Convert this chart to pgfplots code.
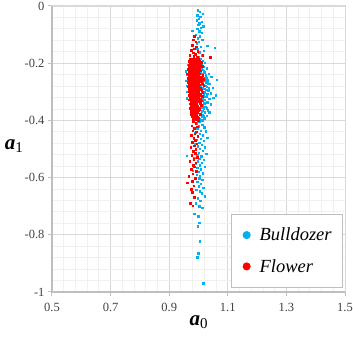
\documentclass[border=0pt]{standalone}
\usepackage{fontspec}
\setmainfont{Liberation Serif}
\usepackage{pgfplots}
\pgfplotsset{compat=1.18}
\definecolor{bblue}{HTML}{00B0F0}
\definecolor{rred}{HTML}{FF0000}
\definecolor{majg}{HTML}{D9D9D9}
\definecolor{ming}{HTML}{F0F0F0}
\definecolor{axg}{HTML}{BFBFBF}
\definecolor{tickt}{HTML}{404040}
\begin{document}
\begin{tikzpicture}
\begin{axis}[
 scale only axis, width=293pt, height=286pt,
 xmin=0.5, xmax=1.5, ymin=-1, ymax=0,
 xtick={0.5,0.7,0.9,1.1,1.3,1.5}, xticklabels={0.5,0.7,0.9,1.1,1.3,1.5},
 ytick={-1,-0.8,-0.6,-0.4,-0.2,0}, yticklabels={-1,-0.8,-0.6,-0.4,-0.2,0},
 minor tick num=4, minor tick length=0pt,
 grid=both, major grid style={majg, line width=0.9pt}, minor grid style={ming, line width=0.9pt},
 axis line style={majg, line width=1pt},
 tick align=outside, major tick length=4pt, tick pos=left,
 major tick style={axg, line width=1pt},
 ticklabel style={font=\fontsize{12.5}{14}\selectfont, text=tickt},
 xticklabel style={yshift=-4pt},
 xlabel={\fontsize{21}{24}\selectfont\textbf{\textit{a}}\raisebox{-0.35ex}{\fontsize{15}{18}\selectfont 0}},
 ylabel={\fontsize{21}{24}\selectfont\textbf{\textit{a}}\raisebox{-0.35ex}{\fontsize{15}{18}\selectfont 1}},
 xlabel style={at={(axis description cs:0.5,-0.105)}, anchor=center},
 ylabel style={rotate=-90, at={(axis description cs:-0.13,0.51)}, anchor=center},
 legend style={at={(1,0)}, anchor=south east, xshift=-2pt, yshift=4pt, draw=axg, line width=0.8pt, fill=white,
   font=\fontsize{18.5}{21}\selectfont\itshape, row sep=13pt, inner xsep=4pt, inner ysep=12pt, cells={anchor=west}},
 legend cell align=left,
 after end axis/.code={\draw[axg, line width=1.5pt] (rel axis cs:0,1) -- (rel axis cs:0,0) -- (rel axis cs:1,0);},
]
\addlegendimage{legend image code/.code={\path[draw=none,fill=none] (0pt,0pt) -- (22pt,0pt); \fill[bblue] (11pt,0pt) circle (3.6pt);}}
\addlegendentry{Bulldozer\kern5pt}
\addlegendimage{legend image code/.code={\path[draw=none,fill=none] (0pt,0pt) -- (22pt,0pt); \fill[rred] (11pt,0pt) circle (3.6pt);}}
\addlegendentry{Flower}
% Bulldozer
\addplot[forget plot, only marks, mark=square*, mark size=0.7pt, bblue] coordinates {
(0.998,-0.015) (1.004,-0.020) (1.015,-0.026) (0.996,-0.032) (1.006,-0.038) (1.001,-0.045) (0.994,-0.050) (1.010,-0.055) (1.003,-0.060) (0.999,-0.066) (1.016,-0.070) (1.007,-0.075) (0.995,-0.080) (0.978,-0.086) (1.002,-0.088) (1.011,-0.094) (0.990,-0.100) (1.005,-0.106) (0.997,-0.112) (1.013,-0.118) (1.001,-0.124) (0.993,-0.130) (1.030,-0.138) (1.056,-0.146) (1.008,-0.142) (0.996,-0.150) (1.018,-0.156) (1.003,-0.162) (0.989,-0.166) (1.012,-0.172) (1.000,-0.178)
(1.008,-0.185) (1.015,-0.192) (1.022,-0.198) (1.010,-0.205) (1.018,-0.212) (1.028,-0.218) (1.012,-0.222) (1.006,-0.228) (1.020,-0.232) (1.035,-0.236) (1.014,-0.240) (1.025,-0.246) (1.043,-0.248) (1.009,-0.252) (1.019,-0.256) (1.030,-0.260) (0.958,-0.262) (1.012,-0.265) (1.024,-0.268) (1.038,-0.272) (1.016,-0.276) (1.007,-0.280) (1.028,-0.283) (1.048,-0.285) (1.020,-0.290) (1.011,-0.294) (1.033,-0.297) (1.022,-0.302) (1.041,-0.305) (1.008,-0.308) (1.017,-0.312) (1.027,-0.316) (1.013,-0.320) (1.036,-0.324) (1.022,-0.328) (1.009,-0.332) (1.030,-0.336) (1.058,-0.312) (1.019,-0.340) (1.042,-0.344) (1.012,-0.348) (1.025,-0.352) (1.006,-0.356) (1.018,-0.360) (1.032,-0.364) (1.011,-0.368) (1.022,-0.372) (1.005,-0.376) (1.015,-0.380) (1.028,-0.384) (1.010,-0.388) (1.020,-0.392) (1.004,-0.396) (1.013,-0.400)
(1.010,-0.215) (1.017,-0.226) (1.013,-0.236) (1.024,-0.242) (1.016,-0.250) (1.027,-0.253) (1.010,-0.260) (1.021,-0.262) (1.031,-0.270) (1.014,-0.272) (1.023,-0.279) (1.035,-0.288) (1.015,-0.286) (1.026,-0.293) (1.012,-0.300) (1.030,-0.306) (1.020,-0.318) (1.014,-0.330) (1.024,-0.338) (1.008,-0.344) (1.016,-0.354) (1.027,-0.358) (1.013,-0.366) (1.036,-0.372) (1.018,-0.386) (1.062,-0.258) (1.050,-0.320) (0.962,-0.240) (0.960,-0.300) (0.957,-0.228) (0.961,-0.278) (0.959,-0.322) (0.963,-0.205)
(1.002,-0.405) (0.992,-0.410) (1.012,-0.415) (1.000,-0.420) (1.020,-0.424) (0.996,-0.430) (1.008,-0.435) (1.025,-0.438) (0.989,-0.442) (1.004,-0.447) (1.014,-0.452) (0.998,-0.457) (1.030,-0.460) (1.007,-0.464) (0.993,-0.468) (1.018,-0.472) (1.002,-0.477) (0.987,-0.482) (1.011,-0.486) (0.997,-0.490) (1.022,-0.494) (1.005,-0.498) (0.991,-0.503) (1.015,-0.507) (1.000,-0.512) (1.026,-0.516) (0.995,-0.520) (1.009,-0.525) (0.960,-0.523) (0.985,-0.530) (1.003,-0.534) (1.018,-0.538) (0.998,-0.543) (1.010,-0.548) (0.990,-0.552) (1.004,-0.557) (1.021,-0.562) (0.996,-0.566) (1.008,-0.570) (0.980,-0.575) (1.000,-0.580) (1.014,-0.585) (0.993,-0.590) (1.005,-0.595)
(1.003,-0.602) (1.012,-0.608) (0.995,-0.615) (1.008,-0.622) (1.000,-0.630) (1.016,-0.636) (0.992,-0.642) (1.004,-0.648) (1.010,-0.655) (1.022,-0.665) (0.998,-0.672) (1.006,-0.680) (0.990,-0.690) (1.002,-0.700) (1.012,-0.705) (0.985,-0.727) (0.999,-0.735) (1.003,-0.758) (0.998,-0.770) (1.004,-0.822) (0.999,-0.865) (0.996,-0.878) (1.016,-0.969)
};
% Flower
\addplot[forget plot, only marks, mark=square*, mark size=0.8pt, rred] coordinates {
(0.985,-0.105) (0.982,-0.118) (0.990,-0.125) (0.978,-0.138) (0.993,-0.142) (0.986,-0.150) (0.975,-0.155) (0.997,-0.158) (0.981,-0.163) (0.989,-0.168) (1.040,-0.178) (1.015,-0.172) (0.970,-0.172) (0.984,-0.176) (0.995,-0.180)
(0.972,-0.185) (0.979,-0.185) (0.985,-0.185) (0.990,-0.185) (0.996,-0.185) (1.001,-0.185)
(0.968,-0.192) (0.976,-0.192) (0.983,-0.192) (0.988,-0.192) (0.994,-0.192) (0.999,-0.192) (1.004,-0.192)
(0.970,-0.200) (0.975,-0.200) (0.981,-0.200) (0.987,-0.200) (0.992,-0.200) (0.997,-0.200) (1.002,-0.200)
(0.966,-0.207) (0.973,-0.207) (0.979,-0.207) (0.985,-0.207) (0.990,-0.207) (0.995,-0.207) (1.000,-0.207) (1.006,-0.207)
(0.969,-0.215) (0.977,-0.215) (0.982,-0.215) (0.988,-0.215) (0.993,-0.215) (0.998,-0.215) (1.003,-0.215)
(0.964,-0.222) (0.971,-0.222) (0.978,-0.222) (0.984,-0.222) (0.989,-0.222) (0.994,-0.222) (0.999,-0.222) (1.004,-0.222)
(0.967,-0.230) (0.974,-0.230) (0.980,-0.230) (0.986,-0.230) (0.991,-0.230) (0.996,-0.230) (1.001,-0.230)
(0.962,-0.237) (0.970,-0.237) (0.976,-0.237) (0.983,-0.237) (0.988,-0.237) (0.993,-0.237) (0.998,-0.237) (1.003,-0.237)
(0.966,-0.245) (0.973,-0.245) (0.979,-0.245) (0.985,-0.245) (0.990,-0.245) (0.995,-0.245) (1.000,-0.245)
(0.963,-0.252) (0.969,-0.252) (0.976,-0.252) (0.982,-0.252) (0.987,-0.252) (0.992,-0.252) (0.997,-0.252) (1.002,-0.252)
(0.967,-0.260) (0.974,-0.260) (0.980,-0.260) (0.986,-0.260) (0.991,-0.260) (0.996,-0.260) (1.001,-0.260) (1.007,-0.260)
(0.965,-0.267) (0.971,-0.267) (0.977,-0.267) (0.983,-0.267) (0.988,-0.267) (0.993,-0.267) (0.998,-0.267)
(0.968,-0.275) (0.975,-0.275) (0.981,-0.275) (0.987,-0.275) (0.992,-0.275) (0.997,-0.275) (1.003,-0.275)
(0.964,-0.282) (0.972,-0.282) (0.978,-0.282) (0.984,-0.282) (0.989,-0.282) (0.994,-0.282) (0.999,-0.282)
(0.969,-0.290) (0.976,-0.290) (0.982,-0.290) (0.988,-0.290) (0.993,-0.290) (0.998,-0.290) (1.004,-0.290)
(0.966,-0.297) (0.973,-0.297) (0.979,-0.297) (0.985,-0.297) (0.990,-0.297) (0.995,-0.297) (1.000,-0.297)
(0.970,-0.305) (0.977,-0.305) (0.983,-0.305) (0.989,-0.305) (0.994,-0.305) (0.999,-0.305)
(0.968,-0.312) (0.974,-0.312) (0.980,-0.312) (0.986,-0.312) (0.991,-0.312) (0.996,-0.312) (1.002,-0.312)
(0.971,-0.320) (0.978,-0.320) (0.984,-0.320) (0.990,-0.320) (0.995,-0.320) (1.000,-0.320)
(0.969,-0.327) (0.975,-0.327) (0.981,-0.327) (0.987,-0.327) (0.992,-0.327) (0.998,-0.327)
(0.973,-0.335) (0.979,-0.335) (0.985,-0.335) (0.991,-0.335) (0.996,-0.335) (1.001,-0.335)
(0.970,-0.342) (0.977,-0.342) (0.983,-0.342) (0.988,-0.342) (0.994,-0.342)
(0.974,-0.350) (0.980,-0.350) (0.986,-0.350) (0.992,-0.350) (0.997,-0.350)
(0.972,-0.357) (0.978,-0.357) (0.984,-0.357) (0.990,-0.357) (0.995,-0.357) (1.000,-0.357)
(0.975,-0.365) (0.981,-0.365) (0.987,-0.365) (0.993,-0.365) (0.998,-0.365)
(0.973,-0.372) (0.979,-0.372) (0.985,-0.372) (0.991,-0.372) (0.996,-0.372)
(0.976,-0.380) (0.982,-0.380) (0.988,-0.380) (0.994,-0.380)
(0.978,-0.387) (0.984,-0.387) (0.990,-0.387) (0.996,-0.387)
(0.980,-0.395) (0.986,-0.395) (0.992,-0.395)
(1.009,-0.196) (1.012,-0.211) (1.008,-0.226) (1.014,-0.241) (1.010,-0.249) (1.016,-0.256) (1.009,-0.264) (1.013,-0.271) (1.018,-0.279) (1.008,-0.286) (1.011,-0.294) (1.015,-0.301) (1.007,-0.309) (1.012,-0.316) (1.006,-0.324) (1.010,-0.331) (1.005,-0.339) (1.009,-0.347) (1.004,-0.361) (1.006,-0.378) (1.001,-0.392) (0.999,-0.401)
(0.982,-0.405) (0.990,-0.410) (0.977,-0.418) (0.995,-0.422) (0.985,-0.428) (0.980,-0.436) (0.992,-0.440) (0.987,-0.447) (0.976,-0.452) (0.997,-0.456) (0.983,-0.462) (0.989,-0.470) (0.979,-0.476) (0.994,-0.482) (0.985,-0.488) (0.973,-0.494) (0.991,-0.500) (0.982,-0.508) (0.988,-0.515) (0.977,-0.522) (0.995,-0.528) (0.984,-0.535) (0.970,-0.542) (0.990,-0.548) (0.981,-0.556) (0.986,-0.562) (0.975,-0.570) (0.993,-0.578) (0.980,-0.586) (0.966,-0.595) (0.988,-0.602) (0.978,-0.612) (0.961,-0.618) (0.983,-0.628) (0.975,-0.640) (0.978,-0.652) (0.985,-0.668) (0.972,-0.690) (0.980,-0.698)
};
\end{axis}
\pgfresetboundingbox
\path[use as bounding box] (-52pt,-47pt) rectangle (301pt,292pt);
\end{tikzpicture}
\end{document}
